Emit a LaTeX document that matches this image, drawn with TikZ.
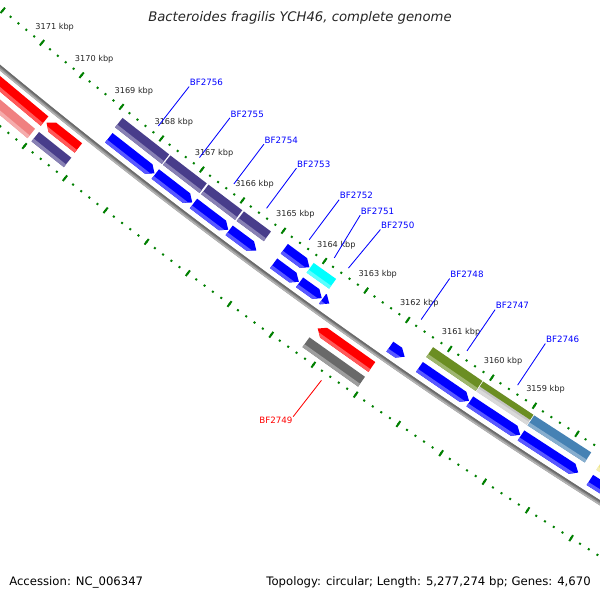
\documentclass[tikz,border=0pt]{standalone}
\usepackage{fontspec}
\setmainfont{DejaVu Sans}
\usetikzlibrary{positioning}

\definecolor{cdsfwd}{HTML}{0000FF}
\definecolor{cdsrev}{HTML}{FF0000}
\definecolor{cogslate}{HTML}{483D8B}
\definecolor{cogpink}{HTML}{F08080}
\definecolor{cogcyan}{HTML}{00FFFF}
\definecolor{cogolive}{HTML}{6B8E23}
\definecolor{cogsilver}{HTML}{C4C4C4}
\definecolor{cogsteel}{HTML}{4682B4}
\definecolor{coggray}{HTML}{696969}
\definecolor{cogkhaki}{HTML}{F0E68C}
\definecolor{tickgreen}{HTML}{008000}

\tikzset{
  declare function={ang(\p)=126.4+(\p-3165)*0.4966;},
  tickdot/.style={draw=tickgreen, line width=1.4pt},
  ticklbl/.style={font=\fontsize{5.8}{6}\selectfont, text=black!85, inner sep=0pt},
  genelbl/.style={font=\fontsize{6.2}{7}\selectfont, text=blue, inner sep=0.3pt},
  genelink/.style={draw=blue, line width=0.6pt},
}

% forward arrow: start kbp, end kbp, inner r, outer r, colour
\newcommand{\fwdarrow}[5]{%
  \fill[#5] ({ang(#1)}:#3) -- ({ang(#2+0.14)}:#3) -- ({ang(#2)}:{(#3+#4)/2})
    -- ({ang(#2+0.14)}:#4) -- ({ang(#1)}:#4) -- cycle;
  \fill[#5!65!white] ({ang(#1)}:{#4-3.5}) -- ({ang(#2+0.06)}:{#4-3.5})
    -- ({ang(#2+0.14)}:#4) -- ({ang(#1)}:#4) -- cycle;}
% reverse arrow, tip at the start
\newcommand{\revarrow}[5]{%
  \fill[#5] ({ang(#1)}:{(#3+#4)/2}) -- ({ang(#1-0.14)}:#3) -- ({ang(#2)}:#3)
    -- ({ang(#2)}:#4) -- ({ang(#1-0.14)}:#4) -- cycle;
  \fill[#5!65!white] ({ang(#1-0.06)}:{#4-3.5}) -- ({ang(#2)}:{#4-3.5})
    -- ({ang(#2)}:#4) -- ({ang(#1-0.14)}:#4) -- cycle;}
% plain box
\newcommand{\cogbox}[5]{%
  \fill[#5] ({ang(#1)}:#3) -- ({ang(#2)}:#3) -- ({ang(#2)}:#4) -- ({ang(#1)}:#4) -- cycle;
  \fill[#5!65!white] ({ang(#1)}:{#4-3.5}) -- ({ang(#2)}:{#4-3.5})
    -- ({ang(#2)}:#4) -- ({ang(#1)}:#4) -- cycle;}

\begin{document}
\begin{tikzpicture}[x=0.025cm, y=-0.025cm]

\useasboundingbox (0,0) rectangle (600,600);
\fill[white] (0,0) rectangle (600,600);

\begin{scope}
\clip (0,0) rectangle (600,600);
\begin{scope}[shift={(3775,-4505)}]

% backbone
\draw[line width=3.2pt, draw=black!45] ({ang(3174)}:5929.75) arc[start angle={ang(3174)}, end angle={ang(3155)}, radius=5929.75];
\draw[line width=1.1pt, draw=black!58] ({ang(3174)}:5928.3) arc[start angle={ang(3174)}, end angle={ang(3155)}, radius=5928.3];
\draw[line width=1.1pt, draw=black!30] ({ang(3174)}:5931.3) arc[start angle={ang(3174)}, end angle={ang(3155)}, radius=5931.3];

% ticks
\foreach \i in {0,...,100} {
  \draw[tickdot] ({ang(3154+\i/5)}:5883) -- ({ang(3154+\i/5)}:5885);
  \draw[tickdot] ({ang(3154+\i/5)}:5974) -- ({ang(3154+\i/5)}:5976);
}
\foreach \k in {3154,...,3174} {
  \draw[tickdot] ({ang(\k)}:5880.5) -- ({ang(\k)}:5887.5);
  \draw[tickdot] ({ang(\k)}:5971.5) -- ({ang(\k)}:5978.5);
}
\foreach \k in {3159,...,3171}
  \node[ticklbl] (t\k) at ({ang(\k)}:5864) {\k\ kbp};

% COG row, forward
\cogbox{3168.85}{3167.69}{5892}{5904}{cogslate}
\cogbox{3167.66}{3166.76}{5892}{5904}{cogslate}
\cogbox{3166.72}{3165.89}{5892}{5904}{cogslate}
\cogbox{3165.85}{3165.19}{5892}{5904}{cogslate}
\fwdarrow{3164.78}{3164.17}{5892}{5904}{cdsfwd}
\cogbox{3164.15}{3163.61}{5892}{5904}{cogcyan}
\cogbox{3161.29}{3160.12}{5892}{5904}{cogolive}
\cogbox{3160.10}{3158.92}{5892}{5904}{cogsilver}
\fill[cogolive] ({ang(3160.10)}:5892) -- ({ang(3158.92)}:5892) -- ({ang(3158.92)}:5898) -- ({ang(3160.10)}:5898) -- cycle;
\cogbox{3158.90}{3157.57}{5892}{5904}{cogsteel}
\cogbox{3157.30}{3155.50}{5892}{5904}{cogkhaki}

% CDS row, forward
\fwdarrow{3168.82}{3167.69}{5910}{5922}{cdsfwd}
\fwdarrow{3167.67}{3166.76}{5910}{5922}{cdsfwd}
\fwdarrow{3166.73}{3165.88}{5910}{5922}{cdsfwd}
\fwdarrow{3165.86}{3165.20}{5910}{5922}{cdsfwd}
\fwdarrow{3164.78}{3164.17}{5910}{5922}{cdsfwd}
\fwdarrow{3164.15}{3163.62}{5910}{5922}{cdsfwd}
\fwdarrow{3163.60}{3163.44}{5910}{5922}{cdsfwd}
\fwdarrow{3161.99}{3161.64}{5910}{5922}{cdsfwd}
\fwdarrow{3161.29}{3160.12}{5910}{5922}{cdsfwd}
\fwdarrow{3160.10}{3158.92}{5910}{5922}{cdsfwd}
\fwdarrow{3158.90}{3157.57}{5910}{5922}{cdsfwd}
\fwdarrow{3157.30}{3155.50}{5910}{5922}{cdsfwd}

% CDS row, reverse
\revarrow{3174.50}{3170.00}{5937}{5949}{cdsrev}
\revarrow{3169.95}{3169.16}{5937}{5949}{cdsrev}
\revarrow{3163.34}{3162.05}{5937}{5949}{cdsrev}

% COG row, reverse
\cogbox{3174.50}{3170.05}{5955}{5967}{cogpink}
\cogbox{3169.95}{3169.15}{5955}{5967}{cogslate}
\cogbox{3163.37}{3162.05}{5955}{5967}{coggray}

% gene labels
\foreach \gid/\pin/\pout in {BF2756/3168.20/3168.20, BF2755/3167.18/3167.18,
    BF2754/3166.33/3166.33, BF2753/3165.53/3165.53, BF2752/3164.49/3164.48,
    BF2751/3163.88/3163.96, BF2750/3163.54/3163.47, BF2748/3161.79/3161.79,
    BF2747/3160.70/3160.70, BF2746/3159.50/3159.50} {
  \coordinate (f\gid) at ({ang(\pin)}:5876);
  \node[genelbl, anchor=south west] (\gid) at ({ang(\pout)}:5826) {\gid};
  \draw[genelink] (f\gid) -- (\gid.south west);
}
\coordinate (fBF2749) at ({ang(3162.70)}:5983);
\node[genelbl, text=red, anchor=north east] (BF2749) at ({ang(3162.74)}:6029) {BF2749};
\draw[genelink, draw=red] (fBF2749) -- (BF2749.north east);

\end{scope}
\end{scope}

\node[font=\fontsize{9.4}{11}\selectfont\itshape, text=black!85] (title) at (300,18) {Bacteroides fragilis YCH46, complete genome};
\node[anchor=west, inner sep=0pt, font=\fontsize{8.3}{10}\selectfont] (acc) at (9,582) {Accession: NC\_006347};
\node[anchor=east, inner sep=0pt, font=\fontsize{8.3}{10}\selectfont] (topo) at (591,582) {Topology: circular; Length: 5,277,274 bp; Genes: 4,670};

\end{tikzpicture}
\end{document}
